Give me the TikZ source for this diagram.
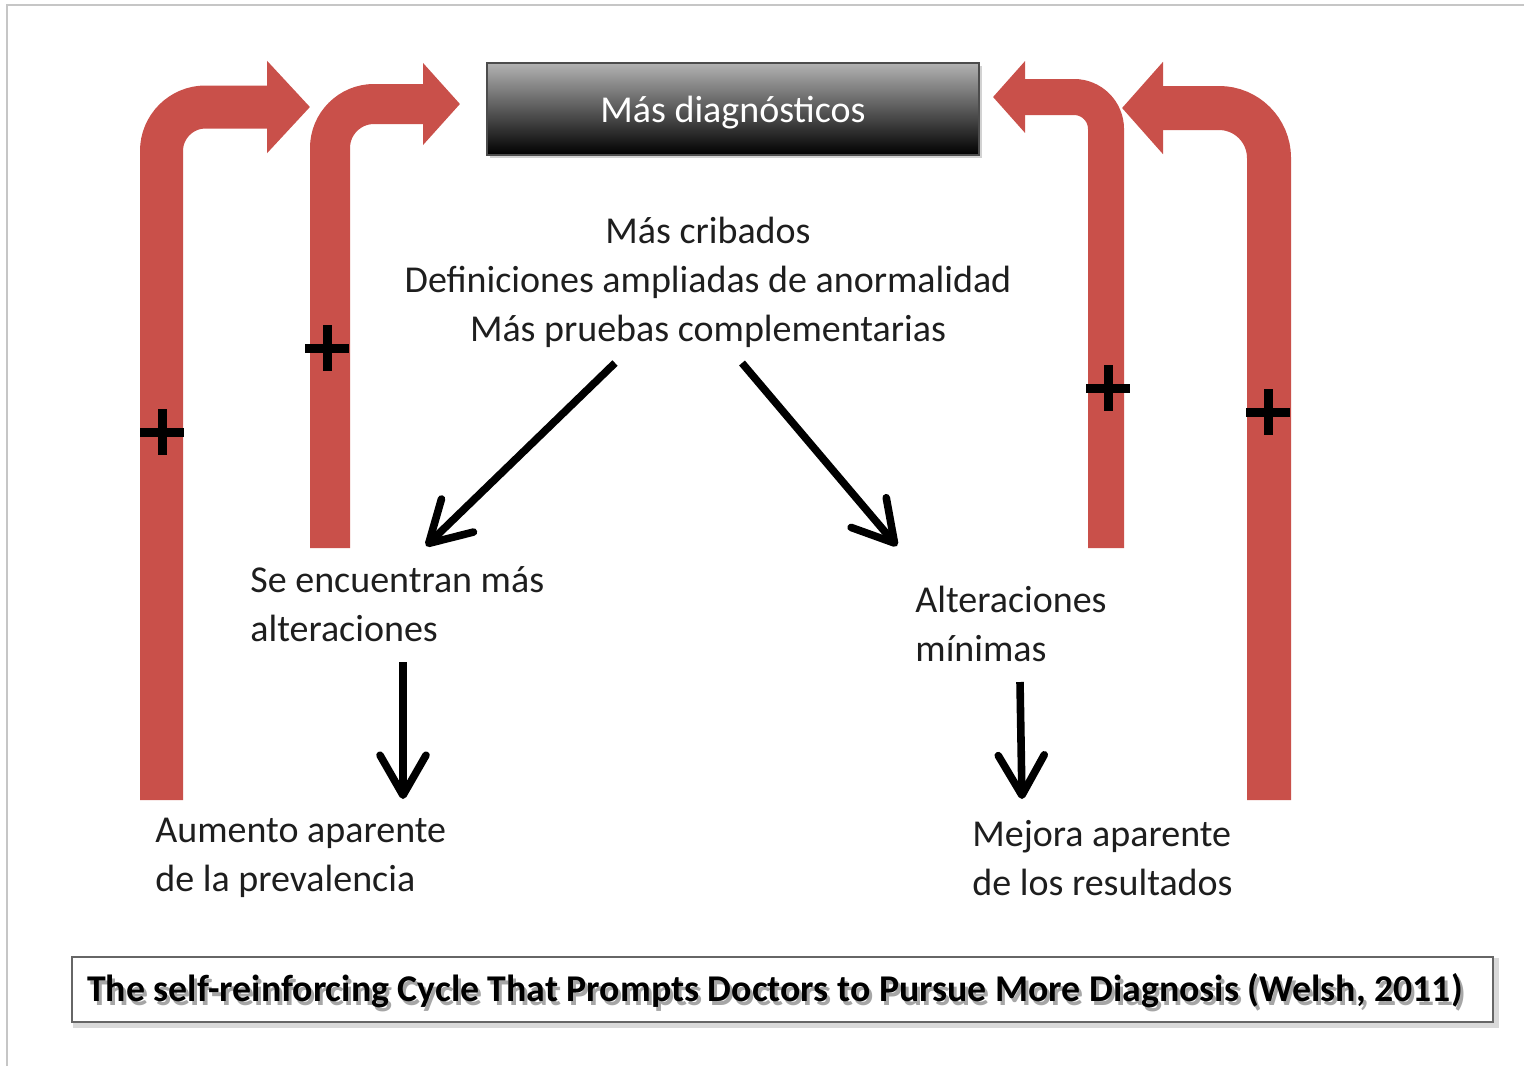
\documentclass[tikz,border=0pt]{standalone}
\usepackage{fontspec}
\setmainfont{Carlito}
\usetikzlibrary{arrows.meta,shadings}
\definecolor{barred}{RGB}{201,80,74}
\definecolor{topgray}{RGB}{178,178,178}
\definecolor{txt}{RGB}{30,30,30}
\newcommand{\captiontxt}{The self-reinforcing Cycle That Prompts Doctors to Pursue More Diagnosis (Welsh, 2011)}
\tikzset{
  redarrow/.style={draw=barred,line cap=butt,line join=miter},
  plussign/.style={line width=4.5pt,black},
  blackarrow/.style={line width=3.8pt,black,-{Straight Barb[length=20pt,width=23pt,round]}},
  lbl/.style={inner sep=0pt,text=txt,font=\fontsize{19}{24.5}\selectfont,align=left},
  captext/.style={inner sep=0pt,font=\bfseries\fontsize{18.9}{21}\selectfont},
}
\begin{document}
\begin{tikzpicture}[x=0.5pt,y=-0.5pt]
\useasboundingbox (0,0) rectangle (1524,1066);
% faint frame
\draw[line width=1pt,gray!45] (7,1066) -- (7,5) -- (1524,5);

% box
\fill[gray!35] (490,66) rectangle (982,158);
\node[minimum width=246pt,minimum height=46pt,inner sep=0pt,
      top color=topgray,bottom color=black,draw=black!70,line width=0.6pt] (diag) at (733,109) {};
\node[inner sep=0pt,text=white,font=\fontsize{19}{24}\selectfont] (diaglbl) at (733,113) {Más diagnósticos};

% middle text
\node[lbl,align=center] (mid) at (708,282)
  {Más cribados\\Definiciones ampliadas de anormalidad\\Más pruebas complementarias};
\node[lbl,anchor=west] (left1) at (250,604) {Se encuentran más\\alteraciones};
\node[lbl,anchor=west] (right1) at (915,624) {Alteraciones\\mínimas};
\node[lbl,anchor=west] (left2) at (155,858) {Aumento aparente\\de la prevalencia};
\node[lbl,anchor=west] (right2) at (972,858) {Mejora aparente\\de los resultados};

% black arrows
\coordinate (m1) at (615,363);
\coordinate (m1t) at (426,546);
\coordinate (m2) at (742,363);
\coordinate (m2t) at (897,546);
\coordinate (l1) at (403,662);
\coordinate (l1t) at (403,799);
\coordinate (r1) at (1020,682);
\coordinate (r1t) at (1022,799);
\draw[blackarrow] (m1) -- (m1t);
\draw[blackarrow] (m2) -- (m2t);
\draw[blackarrow] (l1) -- (l1t);
\draw[blackarrow] (r1) -- (r1t);

% red arrows
\coordinate (a1s) at (161.5,800);
\coordinate (a1t) at (310,107);
\coordinate (a2s) at (330,548);
\coordinate (a2t) at (460,104);
\coordinate (a3s) at (1106,548);
\coordinate (a3t) at (993,97);
\coordinate (a4s) at (1269,800);
\coordinate (a4t) at (1122,108);
\draw[redarrow,line width=21.5pt,rounded corners=22pt,
      -{Triangle[length=21.5pt,width=45pt,fill=barred,color=barred]}] (a1s) |- (a1t);
\draw[redarrow,line width=20pt,rounded corners=22pt,
      -{Triangle[length=18.5pt,width=40pt,fill=barred,color=barred]}] (a2s) |- (a2t);
\draw[redarrow,line width=18pt,rounded corners=16pt,
      -{Triangle[length=16pt,width=35pt,fill=barred,color=barred]}] (a3s) |- (a3t);
\draw[redarrow,line width=22pt,rounded corners=25pt,
      -{Triangle[length=20.5pt,width=45pt,fill=barred,color=barred]}] (a4s) |- (a4t);

% plus signs
\foreach \px/\py in {162/432,327/348,1108/388,1268/412}{
  \draw[plussign] (\px-22,\py) -- (\px+22,\py) (\px,\py-23) -- (\px,\py+23);
}

% caption
\draw[line width=2.5pt,gray!30] (75,960) rectangle (1496,1025);
\node[draw=black!60,line width=1.2pt,fill=white,minimum width=710.5pt,minimum height=32.5pt,inner sep=0pt] (capbox) at (782.5,989.5) {};
\node[captext,text=black] (cap) at (775,993)
  {\rlap{\hspace{1.5pt}\raisebox{-2pt}{\textcolor{gray!70}{\captiontxt}}}\captiontxt};
\end{tikzpicture}
\end{document}
